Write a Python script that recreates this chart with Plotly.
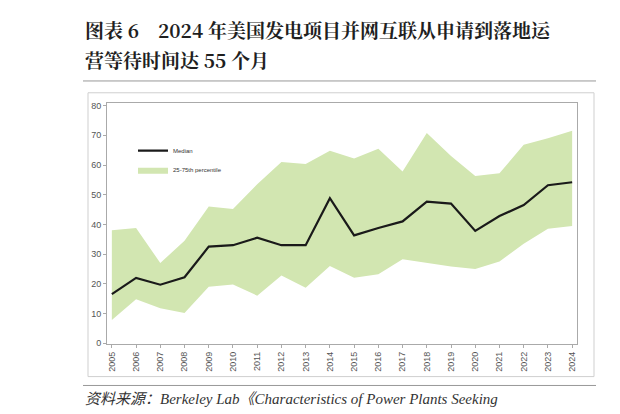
import plotly.graph_objects as go

years = [str(y) for y in range(2005, 2025)]
median = [16.5,22,19.7,22.2,32.5,33,35.5,33,33,48.8,36.3,38.8,41,47.7,47,37.8,42.8,46.5,53.2,54.2]
p75 = [38,38.8,27,34.5,46,45.2,53.5,61,60.3,64.8,62.2,65.5,57.8,70.8,63,56.3,57.2,66.8,69,71.5]
p25 = [7.8,14.8,11.8,10.2,19,19.8,16,22.8,18.7,26,22,23.2,28.3,27,25.8,25,27.5,33.5,38.5,39.5]

W, H = 620, 414
def px(x): return x / W
def py(y): return 1 - y / H

fig = go.Figure()
fig.add_trace(go.Scatter(x=years, y=p25, mode="lines", line=dict(width=0), showlegend=False, hoverinfo="skip"))
fig.add_trace(go.Scatter(x=years, y=p75, mode="lines", line=dict(width=0), fill="tonexty",
                         fillcolor="#d2e6b1", name="25-75th percentile"))
fig.add_trace(go.Scatter(x=years, y=median, mode="lines", line=dict(color="#1a1a1a", width=2.2), name="Median"))

fig.update_layout(
    width=W, height=H, margin=dict(l=0, r=0, t=0, b=0),
    paper_bgcolor="white", plot_bgcolor="white",
    font=dict(family="Liberation Sans, Arial", color="#555"),
    xaxis=dict(domain=[px(99), px(569)], tickangle=-90, tickfont=dict(size=9, color="#555"),
               showline=True, linecolor="#aaa", mirror=True, ticks="outside", ticklen=3, tickcolor="#aaa",
               range=[-0.2, 19.2], showgrid=False),
    yaxis=dict(domain=[py(339), py(94)], range=[-0.3, 81], dtick=10, tickfont=dict(size=9, color="#555"),
               showline=True, linecolor="#aaa", mirror=True, ticks="outside", ticklen=3, tickcolor="#aaa",
               showgrid=False, zeroline=False),
    legend=dict(x=px(125), y=py(128), xanchor="left", yanchor="top", traceorder="reversed",
                font=dict(size=6, color="#333"), bgcolor="rgba(0,0,0,0)", tracegroupgap=2),
    showlegend=True,
)
fig.add_shape(type="rect", xref="paper", yref="paper", x0=px(80), x1=px(586), y0=py(372), y1=py(84),
              line=dict(color="#cfcfcf", width=1))
fig.add_shape(type="line", xref="paper", yref="paper", x0=px(75), x1=px(588), y0=py(72), y1=py(72),
              line=dict(color="#999", width=1))
fig.add_shape(type="line", xref="paper", yref="paper", x0=px(75), x1=px(588), y0=py(381), y1=py(381),
              line=dict(color="#999", width=1))
title_font = dict(family="Noto Serif CJK SC, Noto Sans CJK SC", size=19, color="#1f1f1f")
fig.add_annotation(xref="paper", yref="paper", x=px(75), y=py(20), xanchor="left", yanchor="middle",
                   text="<b>图表 6　2024 年美国发电项目并网互联从申请到落地运</b>", showarrow=False, font=title_font)
fig.add_annotation(xref="paper", yref="paper", x=px(75), y=py(50), xanchor="left", yanchor="middle",
                   text="<b>营等待时间达 55 个月</b>", showarrow=False, font=title_font)
fig.add_annotation(xref="paper", yref="paper", x=px(75), y=py(395), xanchor="left", yanchor="middle",
                   text="<i>资料来源：Berkeley Lab《Characteristics of Power Plants Seeking</i>", showarrow=False,
                   font=dict(family="Liberation Serif, Noto Sans CJK SC", size=15, color="#333"))
fig.write_html("out.html")
